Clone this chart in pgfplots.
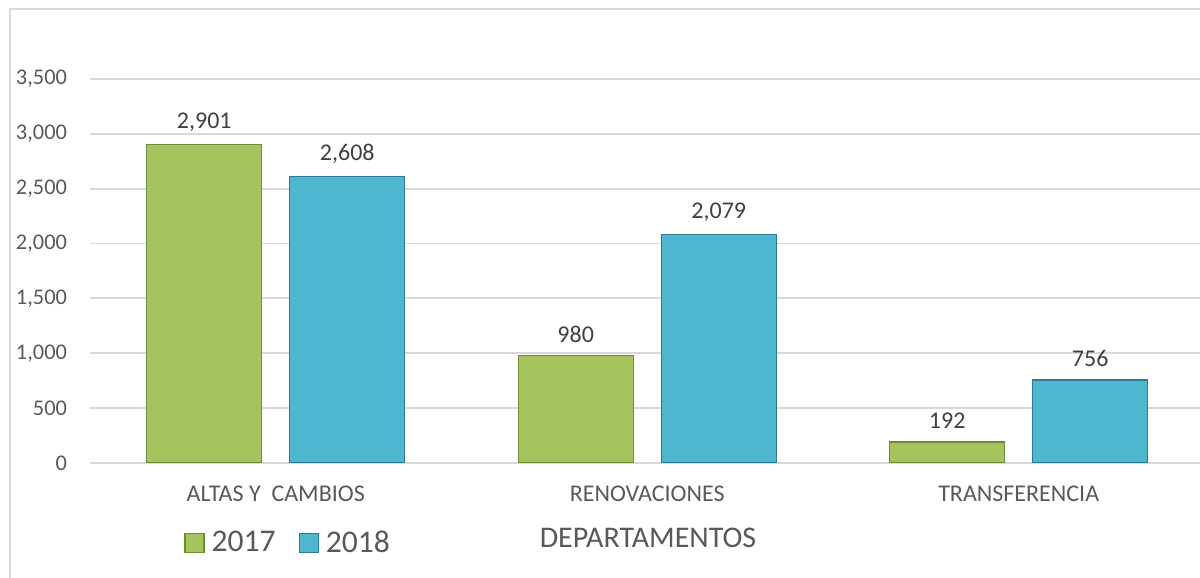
\documentclass[border=0pt]{standalone}
\usepackage{pgfplots}
\pgfplotsset{compat=1.18}
\usepackage{fontspec}
\setmainfont{Carlito}
\definecolor{grn}{HTML}{A5C45E}
\definecolor{grnd}{HTML}{6F8A38}
\definecolor{blu}{HTML}{4FB6CF}
\definecolor{blud}{HTML}{2B7C93}
\definecolor{gridc}{HTML}{D9D9D9}
\definecolor{txt}{HTML}{595959}
\definecolor{lbl}{HTML}{404040}
\begin{document}
\begin{tikzpicture}
\path[use as bounding box] (0,0) rectangle (600bp,289bp);
\draw[gridc, line width=1bp] (5bp,0) -- (5bp,284.5bp) -- (600bp,284.5bp);
\begin{axis}[
  at={(45bp,57.5bp)}, anchor=south west,
  scale only axis, width=555bp, height=219.5bp,
  ybar=14bp, bar width=57.5bp,
  xmin=-0.5, xmax=2.488, ymin=0, ymax=4000,
  xtick={0,1,2},
  xticklabels={ALTAS Y~ CAMBIOS, RENOVACIONES, TRANSFERENCIA},
  ytick={0,500,...,3500},
  /pgf/number format/fixed,
  /pgf/number format/1000 sep={,},
  /pgf/number format/assume math mode=true,
  scaled y ticks=false,
  ymajorgrids, grid style={gridc, line width=0.9bp},
  axis line style={draw=none},
  major tick length=0pt,
  tick label style={text=txt},
  yticklabel style={font=\fontsize{11.2bp}{13bp}\selectfont, xshift=-8bp},
  xticklabel style={font=\fontsize{12bp}{14bp}\selectfont, yshift=-8bp},
  xlabel={DEPARTAMENTOS},
  xlabel style={font=\fontsize{15bp}{17bp}\selectfont, text=txt, at={(axis description cs:0.5027,-0.171)}, anchor=center},
  nodes near coords={\pgfmathprintnumber[fixed,1000 sep={,}]{\pgfplotspointmeta}},
  every node near coord/.append style={font=\fontsize{12bp}{14bp}\selectfont, text=lbl, yshift=3bp},
  legend style={draw=none, fill=none, inner sep=0pt, legend columns=2,
    at={(axis description cs:0.0847,-0.182)}, anchor=west,
    font=\fontsize{15.8bp}{18bp}\selectfont, text=txt,
    nodes={inner sep=0pt},
    /tikz/every odd column/.style={column sep=3.5bp},
    /tikz/every even column/.style={column sep=11.5bp}},
  legend image code/.code={\draw[#1] (0bp,-4.75bp) rectangle (9.5bp,4.75bp);},
]
\addplot[fill=grn, draw=grnd, line width=0.6bp] coordinates {(0,2901) (1,980) (2,192)};
\addplot[fill=blu, draw=blud, line width=0.6bp] coordinates {(0,2608) (1,2079) (2,756)};
\legend{2017,2018}
\end{axis}
\end{tikzpicture}
\end{document}
